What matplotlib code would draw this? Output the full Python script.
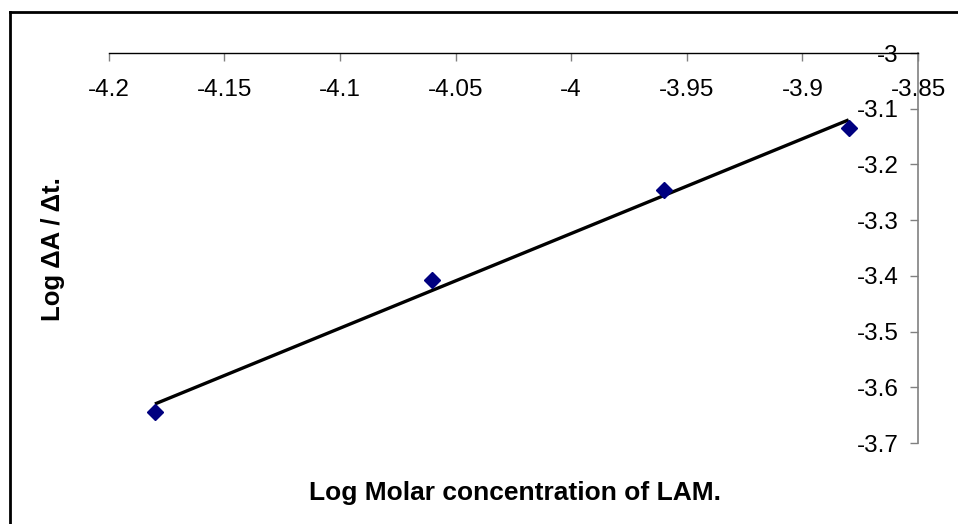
import matplotlib
matplotlib.use("Agg")
import matplotlib.pyplot as plt
import numpy as np
from matplotlib.lines import Line2D

plt.rcParams['font.family'] = ['Liberation Sans', 'DejaVu Sans']

# Data
log_conc = [-4.18, -4.06, -3.96, -3.88]
log_rate = [-3.644, -3.407, -3.246, -3.135]
x_ticks = [-4.2, -4.15, -4.1, -4.05, -4.0, -3.95, -3.9, -3.85]
x_tick_labels = ['-4.2', '-4.15', '-4.1', '-4.05', '-4', '-3.95', '-3.9', '-3.85']
y_ticks = [-3.0, -3.1, -3.2, -3.3, -3.4, -3.5, -3.6, -3.7]
y_tick_labels = ['-3', '-3.1', '-3.2', '-3.3', '-3.4', '-3.5', '-3.6', '-3.7']

fig = plt.figure(figsize=(9.58, 5.24), dpi=100)
W, H = 958, 524
ax = fig.add_axes([108.7 / W, 1 - 443 / H, (918 - 108.7) / W, (443 - 53) / H])

ax.set_xlim(-4.2, -3.85)
ax.set_ylim(-3.7, -3.0)

# Trendline from linear fit
coef = np.polyfit(log_conc, log_rate, 1)
xs = np.array([min(log_conc), max(log_conc)])
ax.plot(xs, np.polyval(coef, xs), color='black', lw=2.4, zorder=2, solid_capstyle='butt')
ax.plot(log_conc, log_rate, linestyle='none', marker='D', markersize=8.5,
        color='#000080', markeredgecolor='#000080', zorder=3, clip_on=False)

# Axes crossing at top/right, Excel style
ax.spines['top'].set_visible(False)
ax.spines['right'].set_visible(False)
ax.spines['bottom'].set_position(('data', -3.0))
ax.spines['left'].set_position(('data', -3.85))
ax.spines['bottom'].set_color('black')
ax.spines['bottom'].set_linewidth(1.0)
ax.spines['left'].set_color('#808080')
ax.spines['left'].set_linewidth(1.2)

ax.set_xticks(x_ticks)
ax.set_xticklabels(x_tick_labels)
ax.set_yticks(y_ticks)
ax.set_yticklabels(y_tick_labels)
ax.tick_params(axis='x', direction='out', length=6, width=1, color='#808080',
               labelsize=17.5, pad=13)
ax.tick_params(axis='y', direction='out', length=6, width=1, color='#808080',
               labelsize=17.5, pad=8)

ax.patch.set_visible(False)

fig.text(515 / W, 1 - 493 / H, 'Log Molar concentration of LAM.', ha='center', va='center',
         fontsize=19, fontweight='bold')
fig.text(53 / W, 1 - 249 / H, 'Log ΔA / Δt.', ha='center', va='center', rotation=90,
         fontsize=18.5, fontweight='bold')

# Outer frame (left and top edges visible)
fig.add_artist(Line2D([9.5 / W, 9.5 / W], [0, 1 - 12 / H], color='black', lw=2,
                      transform=fig.transFigure))
fig.add_artist(Line2D([9.5 / W, 1], [1 - 12 / H, 1 - 12 / H], color='black', lw=2,
                      transform=fig.transFigure))

fig.savefig('out.png', dpi=100)
